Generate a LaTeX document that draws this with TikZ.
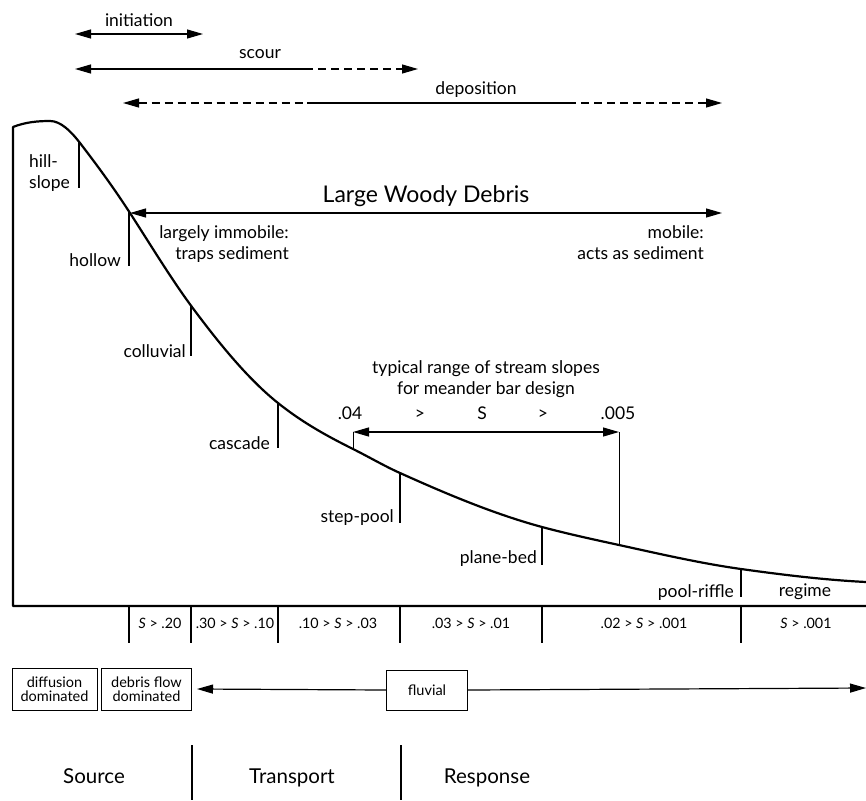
\documentclass[tikz,border=0pt]{standalone}
\usepackage{fontspec}
\setmainfont{Lato}
\usetikzlibrary{arrows.meta}

\begin{document}
\begin{tikzpicture}[x=1pt,y=-1pt,
  lbl/.style={inner sep=0pt,font=\fontsize{17.5}{21}\selectfont},
  rangelbl/.style={inner sep=0pt,anchor=base,font=\fontsize{14.3}{16}\selectfont},
  biglbl/.style={inner sep=0pt,font=\fontsize{23}{26}\selectfont},
  zonelbl/.style={inner sep=0pt,anchor=base,font=\fontsize{20.5}{24}\selectfont},
  box/.style={draw,line width=1pt,inner sep=0pt,minimum height=42pt,align=center,font=\fontsize{14.5}{14.5}\selectfont},
  ground/.style={line width=2.2pt,line join=round},
  tick/.style={line width=1.3pt},
  guide/.style={line width=0.7pt},
  span/.style={line width=1.2pt},
  both/.style={span,{Triangle[length=16pt,width=9pt]}-{Triangle[length=16pt,width=9pt]}},
  lefttip/.style={span,{Triangle[length=16pt,width=9pt]}-},
  righttip/.style={span,-{Triangle[length=16pt,width=9pt]}},
  dash8/.style={dash pattern=on 8pt off 5pt}]

\useasboundingbox (0,0) rectangle (866,800);

% process ranges on top
\coordinate (iniL) at (75,34);
\coordinate (iniR) at (203,34);
\draw[both] (iniL) -- (iniR);
\node[lbl,anchor=base] (ini) at (139,27) {initiation};

\coordinate (scL) at (75,69);
\coordinate (scM) at (305,69);
\coordinate (scR) at (418,69);
\draw[lefttip] (scL) -- (scM);
\draw[righttip,dash8] (scM) -- (scR);
\node[lbl,anchor=base] (scour) at (260,59) {scour};

\coordinate (depL) at (123,103);
\coordinate (depA) at (307,103);
\coordinate (depB) at (568,103);
\coordinate (depR) at (722,103);
\draw[lefttip,dash8] (depL) -- (depA);
\draw[span] (depA) -- (depB);
\draw[righttip,dash8] (depB) -- (depR);
\node[lbl,anchor=base] (depo) at (476,94) {deposition};

% profile
\draw[ground] (866,606) -- (13,606) -- (13,127)
  .. controls (25.3,122.1) and (37.7,121) .. (50,121)
  .. controls (60,121) and (70,130) .. (80,143)
  .. controls (96.7,164.7) and (113.3,187.2) .. (130,213)
  .. controls (150.7,245) and (171.3,279.1) .. (192,307)
  .. controls (220.7,345.7) and (249.3,380.1) .. (278,403)
  .. controls (303,423) and (328,436.5) .. (353,449)
  .. controls (368.7,456.8) and (384.3,466) .. (400,473)
  .. controls (447.3,494.3) and (494.7,514.2) .. (542,527)
  .. controls (567.7,533.9) and (593.3,539.4) .. (619,545)
  .. controls (659.7,553.9) and (700.3,563.3) .. (741,569)
  .. controls (782.7,574.8) and (824.3,579.9) .. (866,582);

% channel types
\draw[tick] (79,142) -- (79,188);
\node[lbl,anchor=west,align=left] (hill) at (29,173) {hill-\\slope};
\draw[tick] (129,212) -- (129,266);
\node[lbl,anchor=base east] (hollow) at (121,266) {hollow};
\draw[tick] (191,306) -- (191,356);
\node[lbl,anchor=base east] (coll) at (186,357) {colluvial};
\draw[tick] (278,403) -- (278,448);
\node[lbl,anchor=base east] (casc) at (270,449) {cascade};
\draw[tick] (400,473) -- (400,523);
\node[lbl,anchor=base east] (step) at (394,522) {step-pool};
\draw[tick] (542,527) -- (542,565);
\node[lbl,anchor=base east] (plane) at (537,563) {plane-bed};
\draw[tick] (741,569) -- (741,597);
\node[lbl,anchor=base east] (pool) at (734,597) {pool-riffle};
\node[lbl,anchor=base] (regime) at (805,596) {regime};

% large woody debris
\coordinate (lwdL) at (130,213);
\coordinate (lwdR) at (722,213);
\draw[both] (lwdL) -- (lwdR);
\node[biglbl,anchor=base] (lwd) at (426,202) {Large Woody Debris};
\node[lbl,anchor=east,align=right] (immob) at (289,244) {largely immobile:\\traps sediment};
\node[lbl,anchor=east,align=right] (mob) at (704,243) {mobile:\\acts as sediment};

% meander bar design
\node[lbl,align=center] (typ) at (486,379) {typical range of stream slopes\\for meander bar design};
\node[lbl,anchor=base] (s1) at (350,419) {.04};
\node[lbl,anchor=base] (g1) at (420,419) {>};
\node[lbl,anchor=base] (s0) at (482,419) {S};
\node[lbl,anchor=base] (g2) at (543,419) {>};
\node[lbl,anchor=base] (s2) at (618,419) {.005};
\draw[guide] (353,432) -- (353,449);
\draw[guide] (619,432) -- (619,545);
\coordinate (mbL) at (353,432);
\coordinate (mbR) at (619,432);
\draw[both] (mbL) -- (mbR);

% slope ranges
\foreach \x in {129,191,278,400,542,741}
  \draw[tick] (\x,606) -- (\x,643);
\node[rangelbl] (r1) at (160,628) {\textit{S} > .20};
\node[rangelbl] (r2) at (235,628) {.30 > \textit{S} > .10};
\node[rangelbl] (r3) at (338,628) {.10 > \textit{S} > .03};
\node[rangelbl] (r4) at (471,628) {.03 > \textit{S} > .01};
\node[rangelbl] (r5) at (644,628) {.02 > \textit{S} > .001};
\node[rangelbl] (r6) at (806,628) {\textit{S} > .001};

% process domains
\node[box,minimum width=85pt] (diff) at (54.5,689) {diffusion\\dominated};
\node[box,minimum width=90pt] (debris) at (146.5,689) {debris flow\\dominated};
\node[box,minimum width=81pt,minimum height=40pt] (fluv) at (427,690) {fluvial};
\coordinate (fluvR) at (866,688);
\draw[righttip] (fluv.west) -- ([xshift=5pt]debris.east);
\draw[righttip] (fluv.east) -- (fluvR);

% zones
\draw[tick] (192,745) -- (192,800);
\draw[tick] (401,745) -- (401,800);
\node[zonelbl] (src) at (94,783) {Source};
\node[zonelbl] (trans) at (292,783) {Transport};
\node[zonelbl] (resp) at (487,783) {Response};
\end{tikzpicture}
\end{document}
